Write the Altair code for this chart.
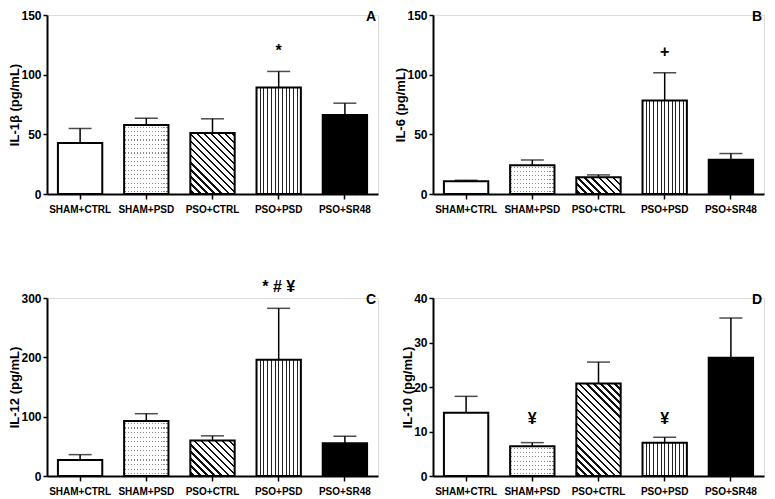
import math
import altair as alt
import pandas as pd

FONT = "Liberation Sans"

groups = ["SHAM+CTRL", "SHAM+PSD", "PSO+CTRL", "PSO+PSD", "PSO+SR48"]
patterns = ["open", "dots", "diag", "vert", "solid"]
letters = ["A", "B", "C", "D"]

il1b_mean = [42.8, 57.9, 51.2, 89.3, 66.3]
il1b_upper = [54.9, 63.5, 63.0, 102.7, 76.1]
il6_mean = [10.6, 24.1, 14.0, 78.4, 28.8]
il6_upper = [11.5, 28.5, 16.0, 101.6, 33.9]
il12_mean = [27, 92.5, 60, 196, 55]
il12_upper = [36, 105, 67.7, 282.6, 67]
il10_mean = [14.2, 6.7, 20.8, 7.5, 26.6]
il10_upper = [17.9, 7.5, 25.6, 8.7, 35.5]

ann_A = {"group": ["PSO+PSD"], "val": [119.8], "txt": ["*"]}
ann_B = {"group": ["PSO+PSD"], "val": [119.2], "txt": ["+"]}
ann_C = {"group": ["PSO+PSD"], "val": [318.7], "txt": ["* # ¥"]}
ann_D = {"group": ["SHAM+PSD", "PSO+PSD"], "val": [12.9, 12.9], "txt": ["¥", "¥"]}

PLOT_W = 331
PAD_IN = 0.33
BAR_W = PLOT_W / 5 * (1 - PAD_IN)
NO_PAD = {"left": 0, "top": 0, "right": 0, "bottom": 0}


def stop(o, c):
    return {"offset": max(0.0, min(1.0, o)), "color": c}


def vert_grad(n=11, color="#222222"):
    w = 0.5 / BAR_W
    stops = [stop(0, "white")]
    for i in range(n):
        c = (i + 1) / (n + 1)
        stops += [stop(c - w, "white"), stop(c - w, color), stop(c + w, color), stop(c + w, "white")]
    stops.append(stop(1, "white"))
    return {"gradient": "linear", "x1": 0, "y1": 0, "x2": 1, "y2": 0, "stops": stops}


def diag_grad(H, p=5.0, t=0.85, color="#111111"):
    W = BAR_W
    r = H / W
    gx = (1 + r) / (1 + r * r)
    gy = -gx * r
    D = (W + H) / math.sqrt(2)
    tw = t / D
    stops = [stop(0, "white")]
    k = 0
    while (k + 0.5) * p + t < D:
        c = (k + 0.5) * p / D
        stops += [stop(c - tw, "white"), stop(c - tw, color), stop(c + tw, color), stop(c + tw, "white")]
        k += 1
    stops.append(stop(1, "white"))
    return {"gradient": "linear", "x1": 0, "y1": 1, "x2": gx, "y2": 1 + gy, "stops": stops}


def rows_grad(H, period=4.4, color="#8a8a8a"):
    n = max(1, int(round(H / period)))
    w = 0.55 / H
    stops = [stop(0, "white")]
    for i in range(n):
        c = (i + 0.5) / n
        stops += [stop(c - w, "white"), stop(c - w, color), stop(c + w, color), stop(c + w, "white")]
    stops.append(stop(1, "white"))
    return {"gradient": "linear", "x1": 0, "y1": 0, "x2": 0, "y2": 1, "stops": stops}


def mask_grad(n=15):
    clear = "rgba(255,255,255,0)"
    w = 0.55 / BAR_W
    stops = [stop(0, "white")]
    for j in range(n):
        c = (j + 0.5) / n
        stops += [stop(c - w, "white"), stop(c - w, clear), stop(c + w, clear), stop(c + w, "white")]
    stops.append(stop(1, "white"))
    return {"gradient": "linear", "x1": 0, "y1": 0, "x2": 1, "y2": 0, "stops": stops}


def panel(means, uppers, ymax, ticks, ytitle, letter, ann, plot_h):
    df = pd.DataFrame({"group": groups, "mean": means, "upper": uppers, "pattern": patterns})
    adf = pd.DataFrame(ann)
    xaxis = alt.Axis(title=None, labelAngle=0, domainColor="black", domainWidth=2,
                     tickColor="black", tickWidth=1.5, tickSize=5, labelFont=FONT,
                     labelFontSize=10, labelFontWeight="bold", labelColor="black",
                     labelPadding=5)
    yaxis = alt.Axis(title=ytitle, values=ticks, grid=False, domainColor="black",
                     domainWidth=2, tickColor="black", tickWidth=1.5, tickSize=4,
                     labelFont=FONT, labelFontSize=12, labelFontWeight="bold",
                     labelColor="black", labelPadding=2, titleFont=FONT,
                     titleFontSize=13, titleFontWeight="bold", titleColor="black",
                     titlePadding=-1)
    xs = alt.Scale(paddingInner=PAD_IN, paddingOuter=PAD_IN / 2)
    ys = alt.Scale(domain=[0, ymax], nice=False, zero=True)
    x = alt.X("group:N", sort=groups, scale=xs, axis=xaxis)
    y = alt.Y("mean:Q", scale=ys, axis=yaxis)
    base = alt.Chart(df)

    def hpx(g):
        return means[groups.index(g)] / ymax * plot_h

    def pick(p):
        return base.transform_filter(alt.datum.pattern == p)

    open_bar = pick("open").mark_bar(fill="white", stroke="black", strokeWidth=2).encode(x=x, y=y)
    dots_rows = pick("dots").mark_bar(fill=rows_grad(hpx("SHAM+PSD")), strokeWidth=0).encode(x=x, y=y)
    dots_mask = pick("dots").mark_bar(fill=mask_grad(), stroke="black", strokeWidth=2).encode(x=x, y=y)
    diag_bar = pick("diag").mark_bar(fill=diag_grad(hpx("PSO+CTRL")), stroke="black", strokeWidth=2).encode(x=x, y=y)
    vert_bar = pick("vert").mark_bar(fill=vert_grad(), stroke="black", strokeWidth=2).encode(x=x, y=y)
    solid_bar = pick("solid").mark_bar(fill="black", stroke="black", strokeWidth=2).encode(x=x, y=y)
    err = base.mark_rule(color="black", strokeWidth=1.5).encode(x=x, y=y, y2="upper:Q")
    cap = base.mark_tick(color="black", thickness=1.5, size=23).encode(
        x=x, y=alt.Y("upper:Q", scale=ys, axis=yaxis))
    txt = alt.Chart(adf).mark_text(font=FONT, fontSize=16, fontWeight="bold", color="black",
                                   baseline="middle").encode(
        x=alt.X("group:N", sort=groups, scale=xs, axis=xaxis),
        y=alt.Y("val:Q", scale=ys, axis=yaxis), text="txt:N")
    lab = alt.Chart(pd.DataFrame({"lbl": [letter]})).mark_text(
        font=FONT, fontSize=14, fontWeight="bold", color="black", align="right",
        baseline="middle").encode(text="lbl:N", x=alt.value(PLOT_W - 2), y=alt.value(2))
    return alt.layer(err, cap, open_bar, dots_rows, dots_mask, diag_bar, vert_bar, solid_bar,
                     txt, lab).properties(width=PLOT_W, height=plot_h)


pA = panel(il1b_mean, il1b_upper, 150, [0, 50, 100, 150], "IL-1β (pg/mL)", letters[0], ann_A, 179)
pB = panel(il6_mean, il6_upper, 150, [0, 50, 100, 150], "IL-6 (pg/mL)", letters[1], ann_B, 179)
pC = panel(il12_mean, il12_upper, 300, [0, 100, 200, 300], "IL-12 (pg/mL)", letters[2], ann_C, 178)
pD = panel(il10_mean, il10_upper, 40, [0, 10, 20, 30, 40], "IL-10 (pg/mL)", letters[3], ann_D, 178)

chart = alt.concat(pA, pB, pC, pD, columns=2, spacing={"row": 104, "column": 55},
                   bounds="flush", padding=NO_PAD
                   ).configure_view(stroke=None).configure(background="white", padding=NO_PAD)

chart.save("out.html", embed_options={"renderer": "svg", "actions": False})
